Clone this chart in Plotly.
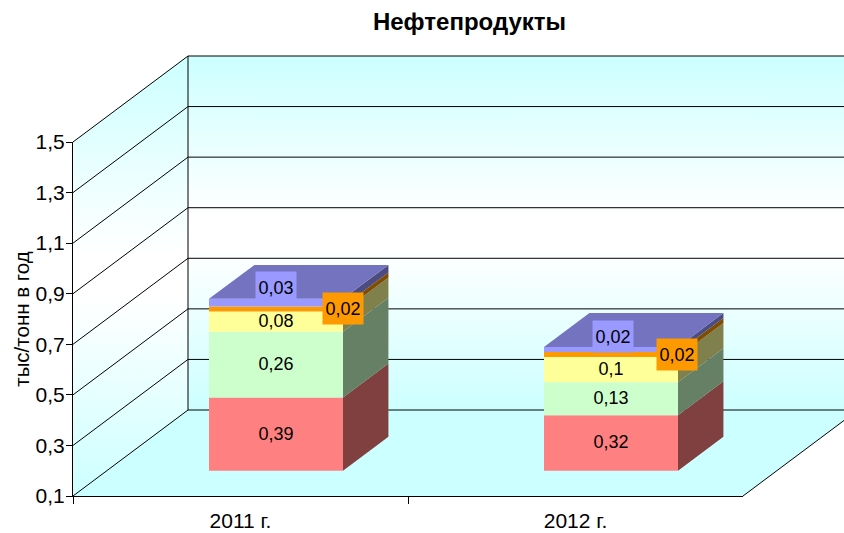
import plotly.graph_objects as go

categories = ["2011 г.", "2012 г."]
series_a = [0.39, 0.32]
series_b = [0.26, 0.13]
series_c = [0.08, 0.10]
series_d = [0.02, 0.02]
series_e = [0.03, 0.02]
y_ticks = [0.1, 0.3, 0.5, 0.7, 0.9, 1.1, 1.3, 1.5]

stack = [series_a, series_b, series_c, series_d, series_e]
front_colors = ["#FF8080", "#CCFFCC", "#FFFF99", "#FF9900", "#9999FF"]
side_colors = ["#804040", "#668066", "#80804C", "#804C00", "#4C4C80"]
top_color = "#7373BF"
# pixel offsets of labels in the source chart: [series] -> per category
label_dx = [[0, 0], [0, 0], [0, 0], [67, 66], [0, 2]]
label_dy = [[1, 1], [1, 1], [1, 1], [0, 0], [15, 13]]
label_boxed = [False, False, False, True, True]

W, H = 844, 533
PX_L, PX_R, PX_B, PX_T = 73, 743, 496, 142
AX_MIN, AX_MAX = 0.1, 1.5
px_per_cat = (PX_R - PX_L) / len(categories)
px_per_val = (PX_B - PX_T) / (AX_MAX - AX_MIN)
DEPTH_X = 115 / px_per_cat     # oblique depth in category units
DEPTH_Y = 86 / px_per_val      # oblique depth in value units
D0, D1 = 0.293, 0.688          # bar depth extent
BAR = 0.4                      # bar width in category units
BAR_SHIFT = 1.8 / px_per_cat
N = len(categories)


def P(x, v, d=0.0):
    return x + d * DEPTH_X, v + d * DEPTH_Y


def poly(points, color=None, gradient=None):
    xs, ys = zip(*(points + points[:1]))
    kw = dict(fillgradient=gradient) if gradient else dict(fillcolor=color)
    return go.Scatter(x=xs, y=ys, mode="lines", fill="toself", line=dict(width=0),
                      hoverinfo="skip", showlegend=False, **kw)


def seg(a, b, color="#000000", width=1):
    return go.Scatter(x=[a[0], b[0]], y=[a[1], b[1]], mode="lines",
                      line=dict(color=color, width=width), hoverinfo="skip", showlegend=False)


def wall_gradient(points):
    ys = [p[1] for p in points]
    return dict(type="vertical", start=min(ys), stop=max(ys),
                colorscale=[[0, "#CCFFFF"], [0.45, "#FFFFFF"], [0.55, "#FFFFFF"], [1, "#CCFFFF"]])


fig = go.Figure()

# walls
left_wall = [P(0, AX_MIN), P(0, AX_MIN, 1), P(0, AX_MAX, 1), P(0, AX_MAX)]
back_wall = [P(0, AX_MIN, 1), P(N, AX_MIN, 1), P(N, AX_MAX, 1), P(0, AX_MAX, 1)]
floor = [P(0, AX_MIN), P(N, AX_MIN), P(N, AX_MIN, 1), P(0, AX_MIN, 1)]
fig.add_trace(poly(left_wall, gradient=wall_gradient(left_wall)))
fig.add_trace(poly(back_wall, gradient=wall_gradient(back_wall)))
fig.add_trace(poly(floor, color="#CCFFFF"))

# gridlines and frame
for t in y_ticks:
    fig.add_trace(seg(P(0, t), P(0, t, 1)))
    fig.add_trace(seg(P(0, t, 1), P(N, t, 1)))
fig.add_trace(seg(P(0, AX_MIN, 1), P(0, AX_MAX, 1)))
fig.add_trace(seg(P(N, AX_MIN), P(N, AX_MIN, 1)))

# bars
annotations = []
for c in range(N):
    xc = c + 0.5 + BAR_SHIFT
    x0 = xc - BAR / 2
    x1 = xc + BAR / 2
    base = 0.0
    for s, values in enumerate(stack):
        lo = max(base, AX_MIN)
        hi = base + values[c]
        fig.add_trace(poly([P(x1, lo, D0), P(x1, lo, D1), P(x1, hi, D1), P(x1, hi, D0)], side_colors[s]))
        fig.add_trace(poly([P(x0, lo, D0), P(x1, lo, D0), P(x1, hi, D0), P(x0, hi, D0)], front_colors[s]))
        cx, cy = P(xc, (lo + hi) / 2, D0)
        annotations.append(dict(
            x=cx, y=cy, xref="x", yref="y", text=str(values[c]).replace(".", ","),
            showarrow=False, xshift=label_dx[s][c], yshift=label_dy[s][c],
            width=40, height=31, borderpad=0, valign="middle", align="center",
            bgcolor=front_colors[s] if label_boxed[s] else "rgba(0,0,0,0)",
            font=dict(family="Liberation Sans", size=18, color="#000000")))
        base = hi
    fig.add_trace(poly([P(x0, base, D0), P(x1, base, D0), P(x1, base, D1), P(x0, base, D1)], top_color))

# invisible carrier for the real axes
fig.add_trace(go.Scatter(x=categories, y=[AX_MIN] * N, xaxis="x2", yaxis="y2", mode="markers",
                         marker=dict(opacity=0), hoverinfo="skip", showlegend=False))

fig.update_layout(
    width=W, height=H, margin=dict(l=0, r=0, t=0, b=0), autosize=False,
    paper_bgcolor="#FFFFFF", plot_bgcolor="rgba(0,0,0,0)", separators=", ", showlegend=False,
    title=dict(text="<b>Нефтепродукты</b>", x=469.5 / W, y=1 - 22 / H, xanchor="center", yanchor="middle",
               automargin=False, font=dict(family="Liberation Sans", size=24, color="#000000")),
    xaxis=dict(domain=[0, 1], range=[-PX_L / px_per_cat, (W - PX_L) / px_per_cat], visible=False, automargin=False),
    yaxis=dict(domain=[0, 1], range=[AX_MIN - (H - PX_B) / px_per_val, AX_MIN + PX_B / px_per_val], visible=False, automargin=False),
    xaxis2=dict(domain=[PX_L / W, PX_R / W], anchor="y2", type="category", categoryarray=categories,
                categoryorder="array", range=[-0.5, N - 0.5], tickson="boundaries", ticks="outside",
                ticklen=7, tickcolor="#000000", showline=True, linecolor="#000000", linewidth=1,
                showgrid=False, zeroline=False, ticklabelstandoff=6, automargin=False,
                ticklabeloverflow="allow",
                tickfont=dict(family="Liberation Sans", size=21, color="#000000")),
    yaxis2=dict(domain=[(H - PX_B) / H, (H - PX_T) / H], anchor="x2", range=[AX_MIN, AX_MAX],
                tickvals=y_ticks, tickformat=".1f", ticks="outside", ticklen=6, tickcolor="#000000",
                showline=True, linecolor="#000000", linewidth=1, showgrid=False, zeroline=False, automargin=False,
                ticklabelstandoff=-3,
                tickfont=dict(family="Liberation Sans", size=21, color="#000000"),
                title=dict(text="тыс/тонн в год", standoff=0,
                           font=dict(family="Liberation Sans", size=20.5, color="#000000"))),
    annotations=annotations,
)

fig.write_html("out.html", config={"displayModeBar": False}, post_script="document.body.style.margin='0';")
